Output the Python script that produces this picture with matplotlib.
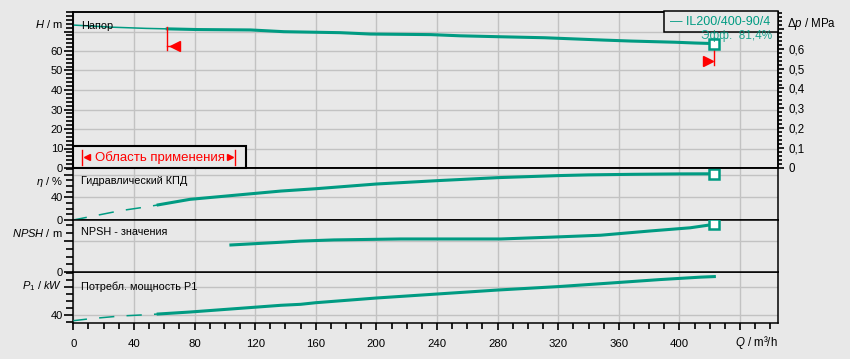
"""
plot.py - pump performance sheet: head, efficiency, NPSH and power P1 vs flow Q.
"""

import matplotlib.pyplot as plt
from matplotlib.lines import Line2D
from matplotlib.patches import Rectangle
from matplotlib.ticker import MultipleLocator
from matplotlib.transforms import Affine2D
import numpy as np

plt.rcParams["font.family"] = ["Liberation Sans", "DejaVu Sans"]
plt.rcParams["mathtext.fontset"] = "custom"
plt.rcParams["mathtext.rm"] = "Liberation Sans"
plt.rcParams["mathtext.it"] = "Liberation Sans:italic"

W, H = 850, 359
BG = "#e8e8e8"
GRID = "#c2c2c2"
TEAL = "#009b82"
RED = "#ff0000"

# ---- data ----
pump_name = "IL200/400-90/4"
eff_text = "Эфф.  81,4%"
q_min, q_max = 62, 423          # application range, m3/h
q_dash_end = 56                 # eta / P1 drawn dashed below this flow

q_head = [0, 26, 48, 82, 117, 139, 176, 196, 236, 255, 282, 311, 350, 368, 397, 410, 423]
head = [73.3, 72.2, 71.6, 71.0, 70.8, 69.9, 69.4, 68.7, 68.4, 67.8, 67.3, 66.8, 65.6, 65.1,
        64.5, 64.1, 63.8]

q_eta = [0, 11, 31, 49, 77, 137, 160, 200, 240, 280, 320, 340, 370, 400, 423]
eta = [0, 5.8, 16.4, 23.4, 36.4, 51.0, 55.1, 63.4, 69.3, 74.6, 78.2, 79.5, 80.5, 81.2, 81.4]

q_npsh = [104, 137, 150, 172, 216, 282, 315, 348, 381, 407, 423]
npsh = [3.5, 3.85, 4.0, 4.15, 4.27, 4.27, 4.5, 4.75, 5.3, 5.7, 6.15]

q_p1 = [0, 11, 31, 49, 77, 137, 150, 160, 200, 240, 280, 320, 354, 387, 414, 423]
p1 = [32.3, 35.1, 39.0, 40.9, 44.7, 54.3, 55.7, 58.0, 64.7, 70.4, 76.1, 81.0, 86.0, 91.0,
      94.5, 95.3]

q_ticks = list(range(0, 441, 40))


def split_at(q, v, q_cut):
    q = np.asarray(q, float)
    v = np.asarray(v, float)
    v_cut = np.interp(q_cut, q, v)
    lo = q < q_cut
    return (np.r_[q[lo], q_cut], np.r_[v[lo], v_cut]), (np.r_[q_cut, q[~lo]], np.r_[v_cut, v[~lo]])


def px_rect(x0, y0, x1, y1):
    return [x0 / W, 1 - y1 / H, (x1 - x0) / W, (y1 - y0) / H]


def style_axes(ax, bottom=False):
    ax.set_facecolor(BG)
    ax.set_xlim(0, 465)
    ax.set_axisbelow(True)
    ax.grid(True, which="major", color=GRID, lw=1.0)
    for s in ax.spines.values():
        s.set_color("black")
        s.set_linewidth(1.1)
    ax.tick_params(axis="y", which="major", direction="out", length=6.5, width=1.2,
                   labelsize=8, pad=0.8, left=True, right=False)
    ax.tick_params(axis="y", which="minor", direction="out", length=4.8, width=1.2,
                   left=True, right=False)
    ax.set_xticks(q_ticks)
    ax.xaxis.set_minor_locator(MultipleLocator(10))
    if bottom:
        ax.set_xticklabels([str(t) if t <= 400 else "" for t in q_ticks])
        ax.tick_params(axis="x", which="major", direction="out", length=5, width=1.2,
                       labelsize=8.2, pad=6)
        ax.tick_params(axis="x", which="minor", direction="out", length=4, width=1.2)
    else:
        ax.tick_params(axis="x", which="both", bottom=False, labelbottom=False)


def main():
    fig = plt.figure(figsize=(W / 100, H / 100), dpi=100)
    fig.patch.set_facecolor(BG)
    px = Affine2D().scale(1 / W, -1 / H).translate(0, 1) + fig.transFigure

    x0, x1 = 73.3, 778
    rows = [(12, 168), (168, 220), (220, 272.3), (272.3, 323.3)]
    ax_p = fig.add_axes(px_rect(x0, rows[3][0], x1, rows[3][1]))
    ax_h = fig.add_axes(px_rect(x0, rows[0][0], x1, rows[0][1]), sharex=ax_p)
    ax_e = fig.add_axes(px_rect(x0, rows[1][0], x1, rows[1][1]), sharex=ax_p)
    ax_n = fig.add_axes(px_rect(x0, rows[2][0], x1, rows[2][1]), sharex=ax_p)
    for ax in (ax_h, ax_e, ax_n):
        style_axes(ax)
    style_axes(ax_p, bottom=True)

    # head
    ax_h.set_ylim(0, 80)
    ax_h.set_yticks(range(0, 80, 10))
    ax_h.set_yticklabels([str(v) if v <= 60 else "" for v in range(0, 80, 10)])
    ax_h.yaxis.set_minor_locator(MultipleLocator(2))
    (ql, hl), (qh, hh) = split_at(q_head, head, q_min)
    ax_h.plot(ql, hl, color=TEAL, lw=1.1, zorder=3)
    ax_h.plot(qh, hh, color=TEAL, lw=2.2, zorder=3)
    ax_h.plot([q_head[-1]], [head[-1]], marker="s", ms=6.5, mfc="white", mec=TEAL, mew=1.8,
              zorder=5)
    # application range markers
    h_lo = np.interp(q_min, q_head, head)
    h_hi = head[-1]
    ax_h.plot([q_min, q_min], [h_lo + 1, h_lo - 10.8], color=RED, lw=1.0, zorder=4)
    ax_h.plot([q_min, q_min + 3], [h_lo - 9, h_lo - 9], color=RED, lw=1.0, zorder=4)
    ax_h.plot([q_min + 5], [h_lo - 9], marker="<", ms=6.5, color=RED, zorder=4)
    ax_h.plot([q_max, q_max], [h_hi, h_hi - 11], color=RED, lw=1.0, zorder=4)
    ax_h.plot([q_max - 4.5], [h_hi - 9], marker=">", ms=6.5, color=RED, zorder=4)
    ax_h.text(5, 73, "Напор", fontsize=7.8, va="center", ha="left", zorder=6)

    ax_dp = ax_h.twinx()
    ax_dp.set_ylim(0, 80 * 0.00981)
    dp_ticks = np.round(np.arange(0, 0.75, 0.1), 1)
    ax_dp.set_yticks(dp_ticks)
    ax_dp.set_yticklabels([("%g" % v).replace(".", ",") if v <= 0.6 else "" for v in dp_ticks])
    ax_dp.yaxis.set_minor_locator(MultipleLocator(0.02))
    ax_dp.tick_params(axis="y", which="major", direction="out", length=4.5, width=1.2,
                      labelsize=8.3, pad=3)
    ax_dp.tick_params(axis="y", which="minor", direction="out", length=3, width=1.2)
    for s in ax_dp.spines.values():
        s.set_color("black")
        s.set_linewidth(1.1)

    # efficiency
    ax_e.set_ylim(0, 91.6)
    ax_e.set_yticks([0, 40, 80])
    ax_e.set_yticklabels(["0", "40", ""])
    ax_e.yaxis.set_minor_locator(MultipleLocator(10))
    (ql, el), (qh, eh) = split_at(q_eta, eta, q_dash_end)
    ax_e.plot(ql, el, color=TEAL, lw=1.1, ls=(1, (10, 8)), zorder=3)
    ax_e.plot(qh, eh, color=TEAL, lw=2.2, zorder=3)
    ax_e.plot([q_eta[-1]], [eta[-1]], marker="s", ms=6.5, mfc="white", mec=TEAL, mew=1.8,
              zorder=5)
    ax_e.text(5, 68.5, "Гидравлический КПД", fontsize=7.8, va="center", ha="left")

    # NPSH
    ax_n.set_ylim(0, 6.7)
    ax_n.set_yticks([0, 4])
    ax_n.set_yticklabels(["0", ""])
    ax_n.yaxis.set_minor_locator(MultipleLocator(1))
    ax_n.plot(q_npsh, npsh, color=TEAL, lw=2.2, zorder=3)
    ax_n.plot([q_npsh[-1]], [npsh[-1]], marker="s", ms=6.5, mfc="white", mec=TEAL, mew=1.8,
              zorder=5)
    ax_n.text(5, 5.1, "NPSH - значения", fontsize=7.8, va="center", ha="left")

    # power P1
    ax_p.set_ylim(28.6, 101.4)
    ax_p.set_yticks([40, 80])
    ax_p.set_yticklabels(["40", ""])
    ax_p.yaxis.set_minor_locator(MultipleLocator(10))
    (ql, pl), (qh, ph) = split_at(q_p1, p1, q_dash_end)
    ax_p.plot(ql, pl, color=TEAL, lw=1.1, ls=(1, (10, 8)), zorder=3)
    ax_p.plot(qh, ph, color=TEAL, lw=2.2, zorder=3)
    ax_p.text(5, 80.5, "Потребл. мощность P1", fontsize=7.8, va="center", ha="left")

    # axis titles
    lab = dict(transform=px, fontsize=8, va="center")
    fig.text(62.5, 24.5, "$H$ / m", ha="right", **lab)
    fig.text(63, 182, r"$\eta$ / %", ha="right", **lab)
    fig.text(62.5, 233, "$NPSH$ / m", ha="right", **lab)
    fig.text(62.5, 286.5, "$P_1$ / $kW$", ha="right", **lab)
    fig.text(787.5, 24.3, r"$\Delta p$ / MPa", ha="left", fontsize=8.3, transform=px,
             va="center")
    fig.text(777.7, 342.3, "$Q$ / m³/h", ha="right", fontsize=8.3, transform=px,
             va="center")

    # application-range box
    fig.add_artist(Rectangle((x0, 146), 246 - x0, 22, transform=px, facecolor=BG,
                             edgecolor="black", lw=1.5, zorder=5))
    fig.add_artist(Line2D([82.3, 82.3], [149.5, 164.5], transform=px, color=RED, lw=1.0,
                          zorder=6))
    fig.add_artist(Line2D([87], [157], transform=px, marker="<", ms=4.5, color=RED, lw=0,
                          zorder=6))
    fig.add_artist(Line2D([235, 235], [149.5, 164.5], transform=px, color=RED, lw=1.0,
                          zorder=6))
    fig.add_artist(Line2D([230.5], [157], transform=px, marker=">", ms=4.5, color=RED, lw=0,
                          zorder=6))
    fig.text(95.5, 157.3, "Область применения", transform=px, fontsize=9.5, color=RED,
             ha="left", va="center", zorder=7)

    # legend box
    fig.add_artist(Rectangle((664, 11), 114, 21, transform=px, facecolor=BG,
                             edgecolor="black", lw=1.1, zorder=5))
    fig.text(670, 22, "— " + pump_name, transform=px, fontsize=9, color=TEAL,
             ha="left", va="center", zorder=7)
    fig.text(772, 36, eff_text, transform=px, fontsize=8.5, color=TEAL, alpha=0.85,
             ha="right", va="center", zorder=7)

    fig.savefig("out.png", dpi=100, facecolor=BG)
    plt.close(fig)


if __name__ == "__main__":
    main()
